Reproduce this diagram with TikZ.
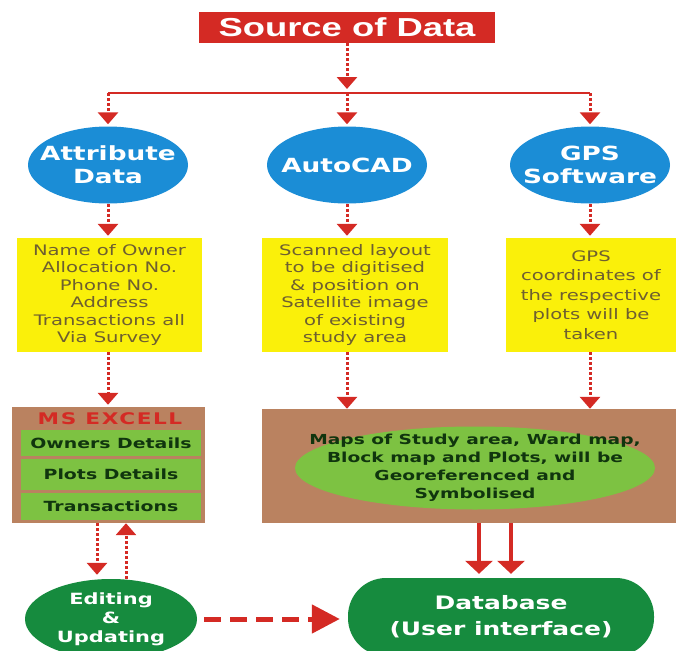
\documentclass[tikz,border=0pt]{standalone}
\usepackage{fontspec}
\setmainfont{DejaVu Sans}[FakeStretch=1.35]
\newfontfamily\titlefont{Liberation Sans}[FakeStretch=1.4]
\usetikzlibrary{arrows.meta,shapes.geometric,positioning}
\definecolor{linered}{HTML}{D42A24}
\definecolor{toolblue}{HTML}{1B8DD6}
\definecolor{noteyellow}{HTML}{FAF00A}
\definecolor{notetext}{HTML}{6E5F30}
\definecolor{boxbrown}{HTML}{BA8260}
\definecolor{leafgreen}{HTML}{7DC242}
\definecolor{leaftext}{HTML}{10350E}
\definecolor{darkgreen}{HTML}{168B3E}
\begin{document}
\begin{tikzpicture}[x=1pt,y=-1pt,
  source/.style={fill=linered,text=white,minimum width=296pt,minimum height=31pt,inner sep=0pt,font=\titlefont\bfseries\fontsize{26}{28}\selectfont},
  tool/.style={ellipse,fill=toolblue,text=white,minimum width=160pt,minimum height=77pt,inner sep=-30pt,align=center,font=\bfseries\fontsize{19.5}{23}\selectfont},
  note/.style={fill=noteyellow,text=notetext,minimum height=114pt,inner sep=0pt,align=center,font=\fontsize{14.5}{17.4}\selectfont},
  panel/.style={fill=boxbrown,inner sep=0pt},
  row/.style={fill=leafgreen,text=leaftext,minimum width=180pt,inner sep=0pt,font=\bfseries\fontsize{14}{16}\selectfont},
  final/.style={fill=darkgreen,text=white,align=center,inner sep=0pt},
  dotline/.style={draw=linered,line width=3pt,dash pattern=on 3pt off 2pt,-{Triangle[length=12pt,width=20pt]}},
  solidline/.style={draw=linered,line width=3.5pt,-{Triangle[length=13pt,width=27pt]}},
  dashline/.style={draw=linered,line width=5pt,dash pattern=on 17pt off 9pt,-{Triangle[length=28pt,width=28pt]}}]
\useasboundingbox (0,0) rectangle (678,651);

\node[source] (src) at (347,27.5) {Source of Data};
\coordinate (split) at (347,93);

\node[tool] (attr) at (108,165) {Attribute\\Data};
\node[tool] (cad) at (347,165) {AutoCAD};
\node[tool] (gps) at (590,165) {GPS\\Software};

\draw[dotline,shorten >=4pt] (src) -- (split);
\draw[linered,line width=2pt] (attr |- split) -- (gps |- split);
\foreach \n in {attr,cad,gps}
    \draw[dotline,shorten >=2pt] (\n |- split) -- (\n.north);

\node[note,minimum width=185pt] (attrnote) at (109.5,295) {Name of Owner\\Allocation No.\\Phone No.\\Address\\Transactions all\\Via Survey};
\node[note,minimum width=186pt] (cadnote) at (355,295) {Scanned layout\\to be digitised\\\& position on\\Satellite image\\of existing\\study area};
\node[note,minimum width=170pt,font=\fontsize{14.5}{19.5}\selectfont] (gpsnote) at (591,295) {GPS\\coordinates of\\the respective\\plots will be\\taken};

\foreach \n/\m in {attr/attrnote,cad/cadnote,gps/gpsnote}
    \draw[dotline,shorten >=2pt] (\n.south) -- (\n |- \m.north);

\node[panel,minimum width=193pt,minimum height=116pt] (excel) at (108.5,465) {};
\node[text=linered,font=\bfseries\fontsize{16}{18}\selectfont\addfontfeatures{LetterSpace=10}] (exceltitle) at (110,419) {MS EXCELL};
\foreach \t/\y/\h [count=\i] in {Owners Details/443/26,Plots Details/474.5/31,Transactions/506.5/27}
    \node[row,minimum height=\h pt] (row\i) at (111,\y) {\t};

\node[panel,minimum width=414pt,minimum height=114pt] (maps) at (469,466) {};
\node[ellipse,fill=leafgreen,text=leaftext,minimum width=360pt,minimum height=83pt,inner sep=-60pt,align=center,font=\bfseries\fontsize{13.8}{18}\selectfont] (mapsnote) at (475,468) {Maps of Study area, Ward map,\\Block map and Plots, will be\\Georeferenced and\\Symbolised};

\draw[dotline,shorten >=2pt] (attrnote.south -| attr) -- (attr |- excel.north);
\draw[dotline] (cadnote.south -| cad) -- (cad |- maps.north);
\draw[dotline] (gpsnote.south -| gps) -- (gps |- maps.north);

\node[ellipse,final,minimum width=172pt,minimum height=80pt,inner sep=-30pt,font=\bfseries\fontsize{15.5}{19}\selectfont] (edit) at (111,619) {Editing\\\&\\Updating};
\node[final,rounded corners=38pt,minimum width=306pt,minimum height=78pt,font=\bfseries\fontsize{18.5}{26}\selectfont] (base) at (501,617) {Database\\(User interface)};

\draw[dotline,shorten >=4pt] ([xshift=-11.5pt]excel.south) -- ([xshift=-11.5pt]excel.south |- edit.north);
\draw[dotline] ([xshift=17.5pt]excel.south |- edit.north) -- ([xshift=17.5pt]excel.south);
\foreach \dx in {-22,10}
    \draw[solidline,shorten >=4pt] ([xshift=\dx pt]base.north |- maps.south) -- ([xshift=\dx pt]base.north);
\draw[dashline,shorten <=7pt,shorten >=8pt] (edit.east) -- (edit.east -| base.west);
\end{tikzpicture}
\end{document}
